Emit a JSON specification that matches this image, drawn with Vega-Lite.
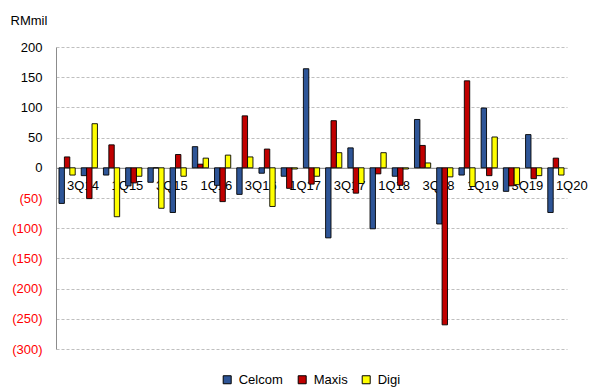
{
  "$schema": "https://vega.github.io/schema/vega-lite/v6.json",
  "autosize": "none",
  "width": 511,
  "height": 302,
  "padding": {"left": 56, "top": 47, "right": 23, "bottom": 43},
  "background": "white",
  "config": {"font": "Liberation Sans", "view": {"stroke": null}},
  "data": {"values": [
    {"q": "3Q14", "co": "Celcom", "v": -59}, {"q": "3Q14", "co": "Maxis", "v": 18}, {"q": "3Q14", "co": "Digi", "v": -12},
    {"q": "4Q14", "co": "Celcom", "v": -13}, {"q": "4Q14", "co": "Maxis", "v": -51}, {"q": "4Q14", "co": "Digi", "v": 73},
    {"q": "1Q15", "co": "Celcom", "v": -12}, {"q": "1Q15", "co": "Maxis", "v": 38}, {"q": "1Q15", "co": "Digi", "v": -81},
    {"q": "2Q15", "co": "Celcom", "v": -30}, {"q": "2Q15", "co": "Maxis", "v": -25}, {"q": "2Q15", "co": "Digi", "v": -14},
    {"q": "3Q15", "co": "Celcom", "v": -24}, {"q": "3Q15", "co": "Maxis", "v": 0}, {"q": "3Q15", "co": "Digi", "v": -67},
    {"q": "4Q15", "co": "Celcom", "v": -74}, {"q": "4Q15", "co": "Maxis", "v": 22}, {"q": "4Q15", "co": "Digi", "v": -14},
    {"q": "1Q16", "co": "Celcom", "v": 35}, {"q": "1Q16", "co": "Maxis", "v": 6}, {"q": "1Q16", "co": "Digi", "v": 16},
    {"q": "2Q16", "co": "Celcom", "v": -29}, {"q": "2Q16", "co": "Maxis", "v": -56}, {"q": "2Q16", "co": "Digi", "v": 21},
    {"q": "3Q16", "co": "Celcom", "v": -44}, {"q": "3Q16", "co": "Maxis", "v": 86}, {"q": "3Q16", "co": "Digi", "v": 18},
    {"q": "4Q16", "co": "Celcom", "v": -9}, {"q": "4Q16", "co": "Maxis", "v": 31}, {"q": "4Q16", "co": "Digi", "v": -64},
    {"q": "1Q17", "co": "Celcom", "v": -14}, {"q": "1Q17", "co": "Maxis", "v": -34}, {"q": "1Q17", "co": "Digi", "v": -2},
    {"q": "2Q17", "co": "Celcom", "v": 164}, {"q": "2Q17", "co": "Maxis", "v": -27}, {"q": "2Q17", "co": "Digi", "v": -14},
    {"q": "3Q17", "co": "Celcom", "v": -116}, {"q": "3Q17", "co": "Maxis", "v": 78}, {"q": "3Q17", "co": "Digi", "v": 25},
    {"q": "4Q17", "co": "Celcom", "v": 33}, {"q": "4Q17", "co": "Maxis", "v": -42}, {"q": "4Q17", "co": "Digi", "v": -26},
    {"q": "1Q18", "co": "Celcom", "v": -101}, {"q": "1Q18", "co": "Maxis", "v": -10}, {"q": "1Q18", "co": "Digi", "v": 25},
    {"q": "2Q18", "co": "Celcom", "v": -14}, {"q": "2Q18", "co": "Maxis", "v": -29}, {"q": "2Q18", "co": "Digi", "v": -2},
    {"q": "3Q18", "co": "Celcom", "v": 80}, {"q": "3Q18", "co": "Maxis", "v": 37}, {"q": "3Q18", "co": "Digi", "v": 8},
    {"q": "4Q18", "co": "Celcom", "v": -93}, {"q": "4Q18", "co": "Maxis", "v": -260}, {"q": "4Q18", "co": "Digi", "v": -15},
    {"q": "1Q19", "co": "Celcom", "v": -12}, {"q": "1Q19", "co": "Maxis", "v": 144}, {"q": "1Q19", "co": "Digi", "v": -31},
    {"q": "2Q19", "co": "Celcom", "v": 99}, {"q": "2Q19", "co": "Maxis", "v": -13}, {"q": "2Q19", "co": "Digi", "v": 51},
    {"q": "3Q19", "co": "Celcom", "v": -39}, {"q": "3Q19", "co": "Maxis", "v": -30}, {"q": "3Q19", "co": "Digi", "v": -28},
    {"q": "4Q19", "co": "Celcom", "v": 55}, {"q": "4Q19", "co": "Maxis", "v": -18}, {"q": "4Q19", "co": "Digi", "v": -13},
    {"q": "1Q20", "co": "Celcom", "v": -74}, {"q": "1Q20", "co": "Maxis", "v": 16}, {"q": "1Q20", "co": "Digi", "v": -12}
  ]},
  "mark": {"type": "bar", "stroke": "#000000", "strokeWidth": 0.9},
  "encoding": {
    "x": {
      "field": "q", "type": "nominal", "sort": null,
      "scale": {"paddingInner": 0.27, "paddingOuter": 0.135},
      "axis": {
        "title": null,
        "values": ["3Q14", "1Q15", "3Q15", "1Q16", "3Q16", "1Q17", "3Q17", "1Q18", "3Q18", "1Q19", "3Q19", "1Q20"],
        "offset": -181.2,
        "labelAngle": 0,
        "labelAlign": "left",
        "labelBaseline": "top",
        "labelPadding": 12,
        "labelFontSize": 13,
        "labelColor": "#000000",
        "ticks": false,
        "domainColor": "#8C8C8C",
        "domainWidth": 1
      }
    },
    "xOffset": {"field": "co", "type": "nominal", "sort": ["Celcom", "Maxis", "Digi"]},
    "y": {
      "field": "v", "type": "quantitative",
      "scale": {"domain": [-300, 200], "nice": false, "zero": false},
      "axis": {
        "values": [-300, -250, -200, -150, -100, -50, 0, 50, 100, 150, 200],
        "labelExpr": "datum.value < 0 ? '(' + format(-datum.value, 'd') + ')' : format(datum.value, 'd') + '\u00a0'",
        "labelColor": {"condition": {"test": "datum.value < 0", "value": "#FF0000"}, "value": "#000000"},
        "labelFontSize": 13,
        "labelPadding": 14,
        "ticks": false,
        "domainColor": "#8C8C8C",
        "gridColor": "#BFBFBF",
        "gridDash": [3, 2],
        "gridWidth": 1,
        "title": "RMmil",
        "titleAngle": 0,
        "titleAlign": "left",
        "titleBaseline": "alphabetic",
        "titleFontWeight": "normal",
        "titleFontSize": 13,
        "titleColor": "#000000",
        "titleX": -46,
        "titleY": -23
      }
    },
    "color": {
      "field": "co", "type": "nominal",
      "scale": {"domain": ["Celcom", "Maxis", "Digi"], "range": ["#2E5597", "#C00000", "#FFFF00"]},
      "legend": {
        "title": null,
        "orient": "none",
        "direction": "horizontal",
        "legendX": 164.7,
        "legendY": 326,
        "padding": 0,
        "symbolType": "square",
        "symbolSize": 64,
        "symbolStrokeColor": "#000000",
        "symbolStrokeWidth": 1,
        "labelFontSize": 13,
        "labelColor": "#000000",
        "labelOffset": 5,
        "columnPadding": 12
      }
    }
  }
}
